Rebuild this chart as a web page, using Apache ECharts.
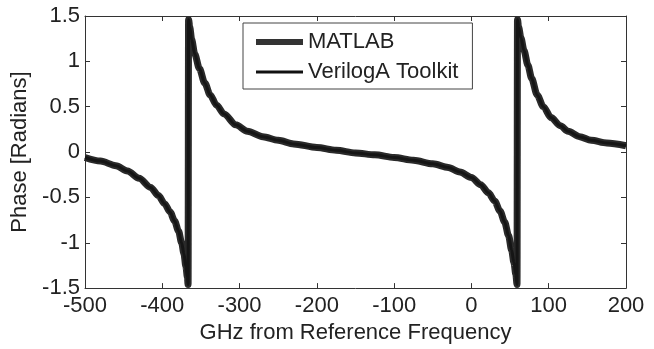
<!DOCTYPE html>
<html>
<head>
<meta charset="utf-8">
<script src="https://cdn.jsdelivr.net/npm/echarts@6/dist/echarts.min.js"></script>
<style>
html,body{margin:0;padding:0;background:#fff;}
#c{width:654px;height:349px;}
</style>
</head>
<body>
<div id="c"></div>
<script>
const seriesNames = ['MATLAB', 'VerilogA Toolkit'];
const xTickLabels = ['-500','-400','-300','-200','-100','0','100','200'];
const yTickLabels = ['-1.5','-1','-0.5','0','0.5','1','1.5'];
const phaseX = [-500,-480,-460,-445,-430,-415,-405,-397,-390,-384,-379,-375,-372,-369.5,-367.5,-366.6,
  -366,-364.5,-362,-358,-352,-345,-338,-330,-320,-305,-290,-270,-250,-230,-200,-175,-150,-125,-100,-75,-50,-30,-15,0,12,22,30,37,43,48,52,55,57.5,59,
  59.6,61,64,68,73,78,85,93,103,115,125,140,155,175,200];
const phaseY = [-0.06,-0.10,-0.15,-0.21,-0.29,-0.39,-0.48,-0.57,-0.66,-0.76,-0.87,-1.00,-1.12,-1.26,-1.38,-1.46,
  1.46,1.38,1.24,1.08,0.92,0.76,0.63,0.52,0.42,0.30,0.23,0.17,0.13,0.09,0.05,0.02,-0.01,-0.03,-0.06,-0.09,-0.13,-0.17,-0.22,-0.28,-0.36,-0.45,-0.54,-0.65,-0.77,-0.92,-1.08,-1.22,-1.35,-1.46,
  1.46,1.38,1.26,1.12,0.96,0.81,0.63,0.50,0.38,0.29,0.23,0.17,0.13,0.10,0.07];
const matlabData = phaseX.map((x, i) => [x, phaseY[i]]);
const verilogData = phaseX.map((x, i) => [x, phaseY[i]]);

const font = 'Liberation Sans, Arial, sans-serif';
const axisCol = '#333';
const fs = 22;
const chart = echarts.init(document.getElementById('c'), null, {renderer: 'canvas'});
const xAxisBase = {
  type: 'value', min: -500, max: 200, interval: 100,
  axisLine: {show: true, onZero: false, lineStyle: {color: axisCol, width: 1}},
  axisTick: {show: true, inside: true, length: 5, lineStyle: {color: axisCol}},
  splitLine: {show: false}
};
const yAxisBase = {
  type: 'value', min: -1.5, max: 1.5, interval: 0.5,
  axisLine: {show: true, onZero: false, lineStyle: {color: axisCol, width: 1}},
  axisTick: {show: true, inside: true, length: 5, lineStyle: {color: axisCol}},
  splitLine: {show: false}
};
chart.setOption({
  backgroundColor: '#fff',
  animation: false,
  grid: {left: 85, right: 28, top: 16, bottom: 55},
  legend: {
    show: true,
    orient: 'vertical', left: 243, top: 23,
    padding: [8, 14, 6, 10], itemGap: 8, itemWidth: 47, itemHeight: 22,
    backgroundColor: '#fff', borderColor: '#444', borderWidth: 1, borderRadius: 0,
    textStyle: {fontFamily: font, fontSize: fs, color: '#222'},
    itemStyle: {opacity: 0},
    data: [
      {name: seriesNames[0], itemStyle: {opacity: 0}, lineStyle: {width: 6, color: '#333'}},
      {name: seriesNames[1], itemStyle: {opacity: 0}, lineStyle: {width: 3, color: '#111'}}
    ]
  },
  xAxis: [
    Object.assign({}, xAxisBase, {
      position: 'bottom',
      name: 'GHz from Reference Frequency', nameLocation: 'middle', nameGap: 30,
      nameTextStyle: {fontFamily: font, fontSize: fs, color: '#222'},
      axisLabel: {fontFamily: font, fontSize: fs, color: '#222', margin: 7,
        formatter: (v) => xTickLabels[Math.round((v + 500) / 100)]}
    }),
    Object.assign({}, xAxisBase, {position: 'top', axisLabel: {show: false}})
  ],
  yAxis: [
    Object.assign({}, yAxisBase, {
      position: 'left',
      name: 'Phase [Radians]', nameLocation: 'middle', nameGap: 50,
      nameTextStyle: {fontFamily: font, fontSize: fs, color: '#222'},
      axisLabel: {fontFamily: font, fontSize: fs, color: '#222', margin: 5,
        formatter: (v) => yTickLabels[Math.round((v + 1.5) / 0.5)]}
    }),
    Object.assign({}, yAxisBase, {position: 'right', axisLabel: {show: false}})
  ],
  series: [
    {name: seriesNames[0], type: 'line', data: matlabData, symbol: 'none',
      smooth: 0.3, smoothMonotone: 'x',
      lineStyle: {width: 7, color: '#2a2a2a'}, itemStyle: {color: '#333'}},
    {name: seriesNames[1], type: 'line', data: verilogData, symbol: 'none',
      smooth: 0.3, smoothMonotone: 'x',
      lineStyle: {width: 3, color: '#151515'}, itemStyle: {color: '#111'}}
  ]
});
</script>
</body>
</html>
